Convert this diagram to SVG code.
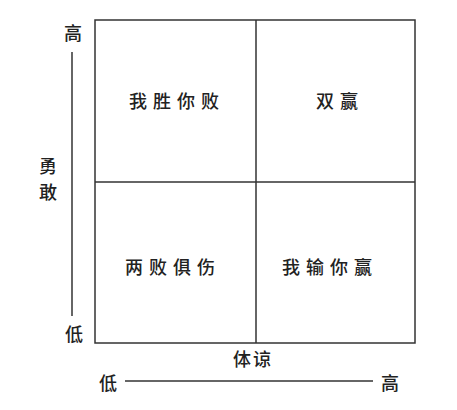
<svg xmlns="http://www.w3.org/2000/svg" width="457" height="410" viewBox="0 0 457 410">
<style>
text{font-family:"Noto Sans CJK SC","Noto Sans CJK JP",sans-serif;fill:#222;text-anchor:middle;dominant-baseline:central;font-weight:500}
.q{font-size:18px;letter-spacing:6px}
.a{font-size:18px}
.ln{stroke:#333;stroke-width:1.5;fill:none}
</style>
<rect width="457" height="410" fill="#fff"/>
<g id="connectors">
<line class="ln" x1="72" y1="52" x2="72" y2="316"/>
<line class="ln" x1="125" y1="381" x2="373" y2="381"/>
</g>
<g id="grid">
<rect class="ln" x="95" y="20" width="320" height="323"/>
<line class="ln" x1="256" y1="20" x2="256" y2="343"/>
<line class="ln" x1="95" y1="182" x2="415" y2="182"/>
</g>
<g id="q1"><text class="q" x="177" y="100">我胜你败</text></g>
<g id="q2"><text class="q" x="340" y="100">双赢</text></g>
<g id="q3"><text class="q" x="173" y="266">两败俱伤</text></g>
<g id="q4"><text class="q" x="330" y="266">我输你赢</text></g>
<g id="yaxis">
<text class="a" x="73" y="32">高</text>
<text class="a" x="48" y="165">勇</text>
<text class="a" x="48" y="191">敢</text>
<text class="a" x="74" y="333">低</text>
</g>
<g id="xaxis">
<text class="a" x="253" y="358" style="letter-spacing:2px">体谅</text>
<text class="a" x="108" y="382">低</text>
<text class="a" x="390" y="382">高</text>
</g>
</svg>
